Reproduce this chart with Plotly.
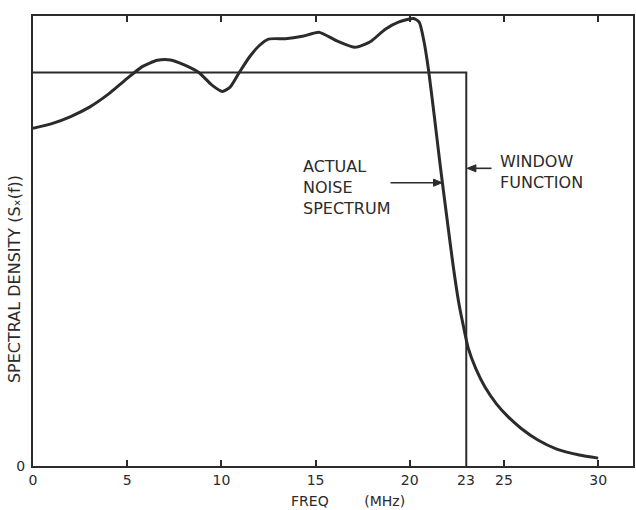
import plotly.graph_objects as go

# Frequency axis (MHz) and the measured noise spectral density (relative units)
noise_freq = [0.0, 1.0, 2.0, 3.0, 4.0, 5.0, 5.8, 6.6, 7.3, 8.0, 8.8, 9.5, 10.05, 10.45,
              10.95, 11.5, 12.0, 12.5, 13.4, 14.3, 15.2, 16.1, 17.1, 17.9, 18.7, 19.4,
              20.2, 20.5, 20.75, 21.0, 21.3, 21.6, 22.0, 22.3, 22.6, 22.85, 23.1, 23.5,
              24.0, 24.6, 25.2, 25.9, 26.8, 27.8, 29.0, 30.0]
noise_density = [0.858, 0.870, 0.888, 0.912, 0.945, 0.985, 1.015, 1.031, 1.032, 1.020,
                 1.000, 0.968, 0.952, 0.962, 1.000, 1.040, 1.068, 1.085, 1.086, 1.092,
                 1.102, 1.081, 1.064, 1.078, 1.110, 1.128, 1.137, 1.128, 1.080, 1.005,
                 0.890, 0.770, 0.620, 0.510, 0.415, 0.355, 0.300, 0.248, 0.200, 0.158,
                 0.126, 0.096, 0.066, 0.043, 0.028, 0.020]

# Rectangular window: flat level up to the cutoff frequency
cutoff_freq = 23
window_freq = [0.0, cutoff_freq, cutoff_freq]
window_level = [1.0, 1.0, 0.0]

x_tick_vals = [0, 5, 10, 15, 20, 25, 30]
y_tick_vals = [0]

ink = "#2b2b2b"
font_family = "DejaVu Sans, Arial, sans-serif"

fig = go.Figure()

fig.add_trace(go.Scatter(
    x=window_freq, y=window_level, mode="lines",
    line=dict(color=ink, width=2), hoverinfo="skip", showlegend=False,
))
fig.add_trace(go.Scatter(
    x=noise_freq, y=noise_density, mode="lines",
    line=dict(color=ink, width=3, shape="spline", smoothing=0.6),
    hoverinfo="skip", showlegend=False,
))

x_range = [0, 31.85]
y_range = [0, 1.1436]

fig.update_layout(
    width=636, height=510,
    margin=dict(l=33, r=1, t=16, b=44),
    paper_bgcolor="white", plot_bgcolor="white",
    font=dict(family=font_family, color=ink, size=14),
    xaxis=dict(
        range=x_range, showgrid=False, zeroline=False,
        showline=True, linecolor=ink, linewidth=2, mirror="ticks",
        ticks="inside", ticklen=6, tickwidth=1.5, tickcolor=ink,
        tickvals=x_tick_vals, ticktext=[str(v) for v in x_tick_vals],
        tickfont=dict(size=14, family=font_family, color=ink),
        ticklabelstandoff=0,
    ),
    yaxis=dict(
        range=y_range, showgrid=False, zeroline=False,
        showline=True, linecolor=ink, linewidth=2, mirror=True,
        ticks="", tickvals=y_tick_vals, ticktext=[str(v) for v in y_tick_vals],
        tickfont=dict(size=14, family=font_family, color=ink),
        ticklabelstandoff=3,
    ),
)

annotations = [
    # cutoff frequency label on the frequency axis
    dict(text=str(cutoff_freq), xref="x", yref="paper", x=cutoff_freq, y=0,
         xanchor="center", yanchor="top", yshift=-4, showarrow=False,
         font=dict(size=14, family=font_family, color=ink)),
    # axis titles
    dict(text="FREQ\u00a0\u00a0\u00a0\u00a0\u00a0\u00a0\u00a0\u00a0(MHz)",
         xref="x", yref="paper", x=13.6, y=-0.078,
         xanchor="left", yanchor="middle", showarrow=False,
         font=dict(size=14, family=font_family, color=ink)),
    dict(text="SPECTRAL DENSITY (S\u2093(f))",
         xref="paper", yref="paper", x=-0.0299, y=0.4156, textangle=-90,
         xanchor="center", yanchor="middle", showarrow=False,
         font=dict(size=16, family=font_family, color=ink)),
    # curve labels
    dict(text="ACTUAL<br>NOISE<br>SPECTRUM", xref="x", yref="y",
         x=14.2, y=0.709, xanchor="left", yanchor="middle", align="left",
         showarrow=False, font=dict(size=16, family=font_family, color=ink)),
    dict(text="WINDOW<br>FUNCTION", xref="x", yref="y",
         x=24.7, y=0.746, xanchor="left", yanchor="middle", align="left",
         showarrow=False, font=dict(size=16, family=font_family, color=ink)),
]
fig.update_layout(annotations=annotations)

# pointer arrows: shaft plus a filled head, in data coordinates
arrow_specs = [
    # (tail_x, tip_x, y, direction)
    (18.98, 21.72, 0.720, 1),
    (24.34, 23.05, 0.7565, -1),
]
head_len = 0.46   # MHz
head_half = 0.009  # density units
shapes = []
for tail_x, tip_x, y, d in arrow_specs:
    base_x = tip_x - d * head_len
    shapes.append(dict(type="line", xref="x", yref="y",
                       x0=tail_x, y0=y, x1=base_x, y1=y,
                       line=dict(color=ink, width=1.6)))
    shapes.append(dict(type="path", xref="x", yref="y",
                       path=f"M {tip_x},{y} L {base_x},{y + head_half} L {base_x},{y - head_half} Z",
                       fillcolor=ink, line=dict(color=ink, width=1)))
fig.update_layout(shapes=shapes)

fig.write_html("out.html")
